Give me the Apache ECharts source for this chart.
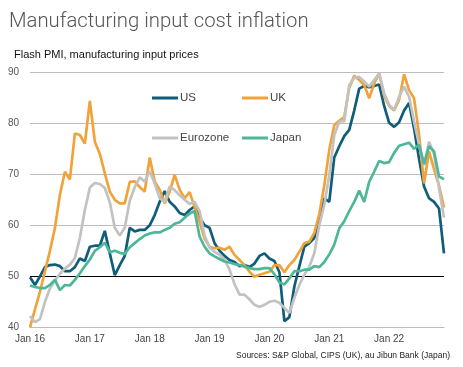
<!DOCTYPE html>
<html><head><meta charset="utf-8">
<script src="https://cdn.jsdelivr.net/npm/echarts@6/dist/echarts.min.js"></script>
<style>html,body{margin:0;padding:0;background:#fff}#c{width:463px;height:367px}</style>
</head><body><div id="c"></div>
<script>
const tickLabels = ['Jan 16','Jan 17','Jan 18','Jan 19','Jan 20','Jan 21','Jan 22'];
const seriesNames = ['US','UK','Eurozone','Japan'];
const us = [49.8,48.3,50.0,51.8,52.2,52.3,52.0,51.0,51.0,51.8,53.5,53.0,
 55.8,56.0,56.0,58.9,54.5,50.2,52.2,54.0,59.5,58.8,59.1,59.1,
 60.0,62.0,64.6,66.7,64.6,63.7,62.4,62.0,63.0,63.7,61.5,60.0,
 59.5,56.5,55.0,54.0,53.2,52.8,52.0,52.2,51.8,52.5,54.0,54.5,
 53.5,53.0,50.8,41.2,42.0,48.0,52.0,55.8,56.5,57.5,61.5,65.3,
 64.6,73.3,75.5,77.5,78.7,82.5,86.8,87.3,87.1,87.3,87.6,83.4,
 80.1,79.3,80.2,82.5,84.0,79.0,73.0,67.6,65.3,64.6,63.3,54.5];
const uk = [40.0,43.5,47.0,51.0,55.0,59.5,66.0,70.5,69.0,78.0,77.7,76.0,
 84.4,76.4,74.0,70.2,66.6,65.0,64.3,64.3,68.5,68.6,67.5,66.6,
 73.3,68.6,67.0,64.3,66.6,69.9,67.0,65.3,66.5,63.6,60.7,57.4,
 55.8,55.5,55.6,55.2,55.8,54.2,53.2,52.2,50.9,49.9,50.3,50.6,
 50.9,52.2,52.2,50.8,52.2,53.2,54.8,56.5,56.8,58.5,62.2,67.8,
 74.8,79.6,80.5,81.2,87.0,89.3,88.5,87.5,84.9,87.8,89.8,85.4,
 83.4,82.5,84.6,89.6,86.5,84.9,77.8,68.2,74.5,71.0,67.8,63.5];
const eurozone = [42.2,41.0,41.6,45.0,47.6,49.2,50.5,51.5,52.3,53.6,57.5,63.0,
 67.4,68.3,68.1,67.3,64.5,59.5,58.0,59.5,64.8,67.5,69.4,68.6,
 70.6,68.2,65.3,64.6,67.6,66.9,65.9,65.0,64.2,64.6,62.8,58.0,
 55.6,54.8,54.2,53.3,51.3,48.5,46.4,46.4,45.5,44.4,44.0,44.4,
 45.0,45.2,44.8,43.8,42.8,45.8,48.3,50.3,51.9,54.5,60.0,64.0,
 69.8,77.7,80.3,80.4,87.5,88.9,89.1,88.2,87.2,88.5,89.8,85.9,
 83.6,82.6,85.2,87.2,85.2,80.3,75.8,71.8,76.4,74.0,67.3,61.5];
const japan = [48.2,47.9,47.7,47.7,48.3,49.3,47.3,48.3,48.2,49.3,50.6,52.0,
 53.3,55.0,55.7,56.6,54.7,55.0,54.6,54.4,55.7,56.5,57.3,58.0,
 58.4,58.6,58.6,59.1,59.5,60.3,60.6,61.5,62.3,62.8,57.8,55.8,
 54.5,53.9,53.4,52.9,52.7,52.4,52.2,51.9,51.6,51.4,51.4,51.6,
 51.6,50.4,48.8,48.4,49.6,51.0,51.0,51.3,51.3,52.0,51.8,52.8,
 54.3,56.2,59.4,60.8,62.8,64.6,66.8,64.6,68.5,70.5,72.6,72.2,
 72.4,74.2,75.6,75.9,76.2,75.0,75.8,72.0,75.5,74.5,69.6,69.0];
const colors = ['#0f5d78','#f1a33b','#c2c2c2','#4db797'];

const categories = [];
tickLabels.forEach(function(t){ for (let m=0;m<12;m++) categories.push(m===0? t : t.replace('Jan','M'+m)); });

const chart = echarts.init(document.getElementById('c'), null, {renderer:'canvas'});
const dataSets = [us, uk, eurozone, japan];
const legendPos = [[147,87],[237,87],[147,127],[237,127]];
chart.setOption({
  animation:false,
  backgroundColor:'#fff',
  title:[
    {text:'Manufacturing input cost inflation', left:4, top:7,
     textStyle:{fontFamily:'Roboto', fontWeight:300, fontSize:20.3, color:'#555'}},
    {text:'Flash PMI, manufacturing input prices', left:9, top:44.5,
     textStyle:{fontFamily:'Liberation Sans, Arial', fontWeight:'normal', fontSize:11, color:'#111'}},
    {text:'Sources: S&P Global, CIPS (UK), au Jibun Bank (Japan)', right:8, top:346,
     textStyle:{fontFamily:'Liberation Sans Narrow, Liberation Sans', fontWeight:'normal', fontSize:8.5, color:'#222'}}
  ],
  legend: seriesNames.map(function(n,i){ return {
    data:[n], left:legendPos[i][0], top:legendPos[i][1], icon:'rect', itemWidth:26, itemHeight:3,
    textStyle:{fontFamily:'Liberation Sans, Arial', fontSize:11.5, color:'#444', padding:[0,0,0,-3]},
    selectedMode:false }; }),
  grid:{left:30, right:19, top:72.3, bottom:39.7, containLabel:false},
  xAxis:{type:'category', data:categories, boundaryGap:false,
    axisLine:{show:true, lineStyle:{color:'#bdbdbd', width:1}},
    axisTick:{show:false},
    axisLabel:{interval:function(idx){return idx%12===0;}, formatter:function(v){return v.indexOf('Jan')===0? v:'';},
      fontFamily:'Liberation Sans, Arial', fontSize:10, color:'#444', margin:7},
    splitLine:{show:false}},
  yAxis:{type:'value', min:40, max:90, interval:10,
    axisLine:{show:false}, axisTick:{show:false},
    axisLabel:{fontFamily:'Liberation Sans, Arial', fontSize:10, color:'#555', margin:11},
    splitLine:{show:true, lineStyle:{color:'#bdbdbd', width:1}}},
  series: seriesNames.map(function(n,i){ const s = {
    name:n, type:'line', data:dataSets[i], symbol:'none', smooth:false,
    lineStyle:{color:colors[i], width:2.7}, itemStyle:{color:colors[i]}, z:2+i };
    if (i===0) s.markLine = {silent:true, symbol:'none', label:{show:false},
      lineStyle:{color:'#000', width:1.2, type:'solid'}, data:[{yAxis:50}], z:1};
    return s; })
});
</script></body></html>
